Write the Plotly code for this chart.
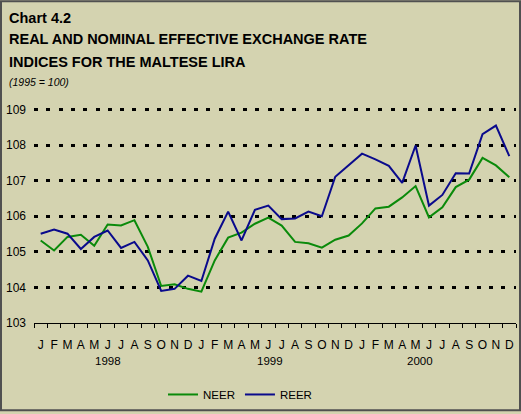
import plotly.graph_objects as go

months = ["J", "F", "M", "A", "M", "J", "J", "A", "S", "O", "N", "D"] * 3
years = ["1998", "1999", "2000"]
year_pos = [5.0, 17.1, 28.3]

neer = [105.32, 105.04, 105.42, 105.48, 105.17, 105.77, 105.74, 105.89, 105.14, 104.04,
        104.09, 103.96, 103.88, 104.76, 105.40, 105.54, 105.79, 105.96, 105.74, 105.28,
        105.24, 105.12, 105.34, 105.46, 105.80, 106.22, 106.27, 106.53, 106.85, 105.97,
        106.25, 106.82, 107.03, 107.64, 107.43, 107.10]
reer = [105.51, 105.63, 105.51, 105.08, 105.42, 105.60, 105.11, 105.28, 104.76, 103.90,
        103.96, 104.33, 104.18, 105.37, 106.13, 105.32, 106.18, 106.30, 105.92, 105.94,
        106.13, 106.00, 107.11, 107.43, 107.76, 107.60, 107.42, 106.94, 107.99, 106.30,
        106.60, 107.21, 107.20, 108.31, 108.55, 107.69]
y_ticks = [103, 104, 105, 106, 107, 108, 109]

idx = list(range(len(months)))
BG = "#D4D3B0"
FONT = "Liberation Sans, Arial, sans-serif"

fig = go.Figure()
fig.add_trace(go.Scatter(x=idx, y=neer, mode="lines", name="NEER",
                         line=dict(color="#0A8A0A", width=2)))
fig.add_trace(go.Scatter(x=idx, y=reer, mode="lines", name="REER",
                         line=dict(color="#0A0A8C", width=2)))
# invisible trace to host the month label axis
fig.add_trace(go.Scatter(x=idx, y=neer, mode="lines", xaxis="x2", showlegend=False,
                         line=dict(color="rgba(0,0,0,0)"), hoverinfo="skip"))

# plot area geometry in pixels
L, R, T, B = 34, 516, 106.4, 325
W, H = 521, 414
ph = B - T
pw = R - L

def px(x):
    return (x - L) / pw

def py(y):
    return (B - y) / ph

annotations = []
title_lines = [
    ("<b>Chart 4.2</b>", 18, 14.5),
    ("<b>REAL AND NOMINAL EFFECTIVE EXCHANGE RATE</b>", 39, 14.5),
    ("<b>INDICES FOR THE MALTESE LIRA</b>", 62, 14.5),
    ("<i>(1995 = 100)</i>", 82, 10.5),
]
for text, yy, size in title_lines:
    annotations.append(dict(text=text, xref="paper", yref="paper", x=px(8), y=py(yy),
                            xanchor="left", yanchor="middle", showarrow=False,
                            xshift=-1,
                            font=dict(family=FONT, size=size, color="#000000")))
for yr, pos in zip(years, year_pos):
    annotations.append(dict(text=yr, xref="x", yref="paper", x=pos, y=py(363),
                            xanchor="center", yanchor="middle", showarrow=False,
                            font=dict(family=FONT, size=11.5, color="#000000")))

fig.update_layout(
    width=W, height=H,
    margin=dict(l=L, r=W - R, t=T, b=H - B, pad=0),
    paper_bgcolor=BG, plot_bgcolor=BG,
    font=dict(family=FONT, size=12, color="#000000"),
    showlegend=True,
    legend=dict(orientation="h", x=px(163), y=py(397), xanchor="left", yanchor="middle",
                bgcolor="rgba(0,0,0,0)", font=dict(family=FONT, size=11.5),
                itemwidth=30, tracegroupgap=0),
    xaxis=dict(range=[-0.5, 35.5], tickvals=[i - 0.5 for i in range(37)],
               showticklabels=False, ticks="outside", ticklen=4, tickcolor="#000000",
               tickwidth=1, showline=True, linecolor="#000000", linewidth=1,
               showgrid=False, zeroline=False, fixedrange=True),
    xaxis2=dict(overlaying="x", matches="x", anchor="y", side="bottom",
                range=[-0.5, 35.5], tickvals=idx, ticktext=months,
                ticks="outside", ticklen=11, tickcolor="rgba(0,0,0,0)",
                showline=False, showgrid=False, zeroline=False,
                tickfont=dict(family=FONT, size=12)),
    yaxis=dict(range=[103, 109.1], tickvals=y_ticks, ticks="", showline=False,
               showgrid=True, gridcolor="#000000", gridwidth=3,
               griddash="4px,8.3px", zeroline=False,
               tickfont=dict(family=FONT, size=12), ticklabelstandoff=7),
    annotations=annotations,
    shapes=[dict(type="rect", xref="paper", yref="paper",
                 x0=px(1), x1=px(520), y0=py(413), y1=py(1),
                 line=dict(color="#505050", width=2), fillcolor="rgba(0,0,0,0)",
                 layer="above")],
)

fig.write_html("out.html", config={"displayModeBar": False},
               post_script="document.body.style.margin='0px';document.body.style.overflow='hidden';")
